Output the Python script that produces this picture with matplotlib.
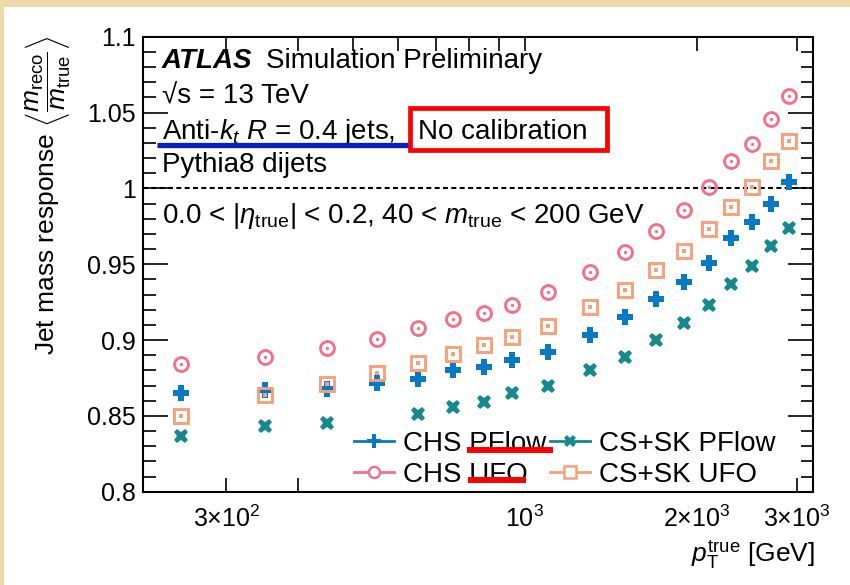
import matplotlib.pyplot as plt
from matplotlib.lines import Line2D
from matplotlib.patches import Rectangle
from matplotlib.ticker import FixedLocator, NullFormatter, MultipleLocator, FuncFormatter

plt.rcParams['font.family'] = 'Liberation Sans'
plt.rcParams['mathtext.fontset'] = 'custom'
plt.rcParams['mathtext.rm'] = 'Liberation Sans'
plt.rcParams['mathtext.it'] = 'Liberation Sans:italic'
plt.rcParams['mathtext.bf'] = 'Liberation Sans:bold'

# jet pT bin centres [GeV]
pt_true = [250, 350, 450, 550, 650, 750, 850, 950, 1100, 1300,
           1500, 1700, 1900, 2100, 2300, 2500, 2700, 2900]

# mean jet mass response per collection
chs_pflow = [0.865, 0.867, 0.868, 0.872, 0.874, 0.880, 0.882, 0.887, 0.892, 0.903,
             0.915, 0.927, 0.938, 0.951, 0.967, 0.978, 0.990, 1.004]
cssk_pflow = [0.837, 0.843, 0.845, 0.840, 0.851, 0.856, 0.859, 0.865, 0.870, 0.880,
              0.889, 0.900, 0.911, 0.923, 0.937, 0.949, 0.962, 0.974]
chs_ufo = [0.884, 0.889, 0.895, 0.901, 0.908, 0.914, 0.918, 0.923, 0.932, 0.945,
           0.958, 0.972, 0.986, 1.001, 1.018, 1.029, 1.046, 1.061]
cssk_ufo = [0.850, 0.864, 0.871, 0.878, 0.885, 0.891, 0.897, 0.902, 0.909, 0.922,
            0.933, 0.946, 0.959, 0.973, 0.988, 1.001, 1.018, 1.031]

labels = ['CHS PFlow', 'CS+SK PFlow', 'CHS UFO', 'CS+SK UFO']
colors = ['#0a79c4', '#16898e', '#f27189', '#f8a07a']

xticks = [300, 1000, 2000, 3000]
xticklabels = [r'$3{\times}10^{2}$', r'$10^{3}$', r'$2{\times}10^{3}$', r'$3{\times}10^{3}$']

W, H = 850, 585


def fx(px):
    return px / W


def fy(py):
    return 1 - py / H


fig = plt.figure(figsize=(W / 100, H / 100), dpi=100, facecolor='#eed9aa')
fig.add_artist(Rectangle((fx(4), 0), 1, fy(7), transform=fig.transFigure,
                         facecolor='white', edgecolor='none', zorder=-10))

ax = fig.add_axes([fx(142.7), fy(491.7), fx(813) - fx(142.7), fy(36.7) - fy(491.7)])
ax.set_xscale('log')
ax.set_xlim(214, 3200)
ax.set_ylim(0.8, 1.1)

ax.axhline(1.0, color='black', lw=1.5, ls=(0, (2.4, 1.6)), zorder=1)

ax.plot(pt_true, chs_pflow, ls='none', marker='P', ms=11, color=colors[0], mew=0)
ax.plot(pt_true, cssk_pflow, ls='none', marker='X', ms=10.5, color=colors[1], mew=0)
ax.plot(pt_true, chs_ufo, ls='none', marker='o', ms=10, mfc='none', mec=colors[2], mew=2.1)
ax.plot(pt_true, chs_ufo, ls='none', marker='o', ms=2.4, color=colors[2], mew=0)
ax.plot(pt_true, cssk_ufo, ls='none', marker='s', ms=9.5, mfc='none', mec=colors[3], mew=2.1)
ax.plot(pt_true, cssk_ufo, ls='none', marker='s', ms=2.4, color=colors[3], mew=0)

handles = [
    Line2D([], [], color=colors[0], lw=2, marker='P', ms=9.5, mew=0),
    Line2D([], [], color=colors[2], lw=2, marker='o', ms=8, mfc='white', mew=1.8),
    Line2D([], [], color=colors[1], lw=2, marker='X', ms=9, mew=0),
    Line2D([], [], color=colors[3], lw=2, marker='s', ms=8, mfc='white', mew=1.8),
]
leg = ax.legend(handles, [labels[0], labels[2], labels[1], labels[3]], ncol=2,
                loc='upper left', bbox_to_anchor=(fx(345), fy(422)),
                bbox_transform=fig.transFigure, frameon=True, facecolor='white',
                edgecolor='none', framealpha=1, fancybox=False, fontsize=20,
                handlelength=1.45, handletextpad=0.3, columnspacing=0.15,
                labelspacing=0.17, borderpad=0.33, borderaxespad=0)
# above the markers, below the frame and ticks
leg.set_zorder(2.3)

# axis styling: inward ticks on all four sides
for sp in ax.spines.values():
    sp.set_linewidth(1.5)
ax.xaxis.set_major_locator(FixedLocator(xticks))
ax.set_xticklabels(xticklabels)
ax.xaxis.set_minor_locator(FixedLocator([400, 500, 600, 700, 800, 900]))
ax.xaxis.set_minor_formatter(NullFormatter())
ax.yaxis.set_major_locator(MultipleLocator(0.05))
ax.yaxis.set_minor_locator(MultipleLocator(0.01))
ax.yaxis.set_major_formatter(FuncFormatter(lambda v, p: '%g' % round(v, 2)))
ax.tick_params(axis='x', which='both', direction='in', top=True, length=10,
               width=1.2, labelsize=18, pad=10)
ax.tick_params(axis='y', which='major', direction='in', right=True, length=18,
               width=1.2, labelsize=18, pad=5)
ax.tick_params(axis='y', which='minor', direction='in', right=True, length=9, width=1.2)

fig.text(fx(47), fy(36),
         r'Jet mass response $\left\langle\dfrac{m_{\mathrm{reco}}}{m_{\mathrm{true}}}\right\rangle$',
         rotation=90, ha='center', va='top', fontsize=19)
fig.text(fx(815), fy(562), r'$p_{\mathrm{T}}^{\mathrm{true}}$ [GeV]', ha='right',
         va='baseline', fontsize=19)

# labels inside the frame
tx = fx(161.7)
fig.text(tx, fy(68.3), 'ATLAS', fontsize=20, fontweight='bold', fontstyle='italic',
         va='baseline')
fig.text(fx(266), fy(68.3), 'Simulation Preliminary', fontsize=20, va='baseline')
fig.text(tx, fy(104), '\u221as = 13 TeV', fontsize=20, va='baseline')
fig.text(tx, fy(139.3), r'Anti-$k_{t}$ $R$ = 0.4 jets,', fontsize=20, va='baseline')
fig.text(fx(418.3), fy(139.3), 'No calibration', fontsize=20, va='baseline')
fig.text(tx, fy(171.7), 'Pythia8 dijets', fontsize=20, va='baseline')
fig.text(tx, fy(223.3),
         r'0.0 < |$\eta_{\mathrm{true}}$| < 0.2, 40 < $m_{\mathrm{true}}$ < 200 GeV',
         fontsize=20, va='baseline')

# highlight marks
fig.add_artist(Rectangle((fx(410.3), fy(150)), fx(606.7) - fx(410.3), fy(108.3) - fy(150),
                         transform=fig.transFigure, fill=False, edgecolor='#ff0000',
                         lw=3.4, zorder=10))
fig.add_artist(Line2D([fx(156.7), fx(408.3)], [fy(145.3), fy(145.3)],
                      transform=fig.transFigure, color='#0c1fbf', lw=3.8,
                      solid_capstyle='butt', zorder=10))
fig.add_artist(Line2D([fx(466.7), fx(553.3)], [fy(449.7), fy(449.7)],
                      transform=fig.transFigure, color='#ff0000', lw=4.3,
                      solid_capstyle='butt', zorder=10))
fig.add_artist(Line2D([fx(468.3), fx(525.7)], [fy(479.7), fy(479.7)],
                      transform=fig.transFigure, color='#ff0000', lw=4.3,
                      solid_capstyle='butt', zorder=10))

fig.savefig('out.png', dpi=100, facecolor=fig.get_facecolor())
